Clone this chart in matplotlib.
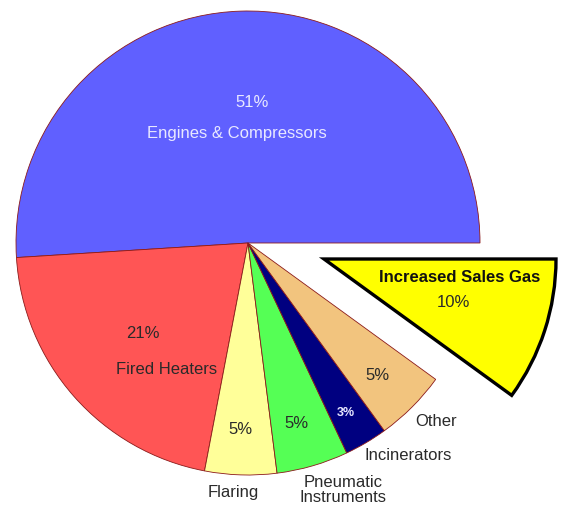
import matplotlib.pyplot as plt

plt.rcParams['font.family'] = ['Liberation Sans', 'DejaVu Sans']

## data
sources = ["Engines & Compressors", "Fired Heaters", "Flaring",
           "Pneumatic\nInstruments", "Incinerators", "Other",
           "Increased Sales Gas"]
shares = [51, 21, 5, 5, 3, 5, 10]
colors = ["#6060FF", "#FF5555", "#FFFF99", "#55FF55", "#000080",
          "#F2C47E", "#FFFF00"]

W, H = 563, 508
cx, cy, R = 248, 243, 232   # pie centre and radius in pixels


def px(x, y):
    # pixel position -> data coords (pie radius = 1)
    return (x - cx) / R, (cy - y) / R


fig = plt.figure(figsize=(W / 100, H / 100), dpi=100)
ax = fig.add_axes([0, 0, 1, 1])

wedges, _ = ax.pie(shares, colors=colors, startangle=0, counterclock=True,
                   radius=1, wedgeprops=dict(edgecolor="#8B1A1A", linewidth=0.6))

# pulled-out slice
wedges[-1].set_center(px(324, 259))
wedges[-1].set_edgecolor("black")
wedges[-1].set_linewidth(2.4)

ax.set_xlim(-cx / R, (W - cx) / R)
ax.set_ylim(-(H - cy) / R, cy / R)
ax.set_aspect("auto")
ax.axis("off")

txt = "#2A2A2A"
fs = 12

# engines
ax.text(*px(252, 103), f"{shares[0]}%", ha="center", va="center", fontsize=fs, color="#E8E8FF")
ax.text(*px(237, 134), sources[0], ha="center", va="center", fontsize=fs, color="#E8E8FF")
# fired heaters
ax.text(*px(143, 334), f"{shares[1]}%", ha="center", va="center", fontsize=fs, color=txt)
ax.text(*px(167, 369), sources[1], ha="center", va="center", fontsize=fs, color=txt)
# flaring
ax.text(*px(240, 429), f"{shares[2]}%", ha="center", va="center", fontsize=fs, color=txt)
ax.text(*px(233, 493), sources[2], ha="center", va="center", fontsize=fs, color=txt)
# pneumatic
ax.text(*px(296, 423), f"{shares[3]}%", ha="center", va="center", fontsize=fs, color=txt)
ax.text(*px(343, 490), sources[3], ha="center", va="center", fontsize=fs, color=txt,
        linespacing=0.95)
# incinerators
ax.text(*px(346, 413), f"{shares[4]}%", ha="center", va="center", fontsize=9,
        color="#E8E8FF", fontweight="bold")
ax.text(*px(408, 455), sources[4], ha="center", va="center", fontsize=fs, color=txt)
# other
ax.text(*px(377, 376), f"{shares[5]}%", ha="center", va="center", fontsize=fs, color=txt)
ax.text(*px(436, 421), sources[5], ha="center", va="center", fontsize=fs, color=txt)
# increased sales gas
ax.text(*px(460, 278), sources[6], ha="center", va="center", fontsize=12,
        color="#111111", fontweight="bold")
ax.text(*px(453, 303), f"{shares[6]}%", ha="center", va="center", fontsize=fs, color=txt)

fig.savefig("out.png", dpi=100)
